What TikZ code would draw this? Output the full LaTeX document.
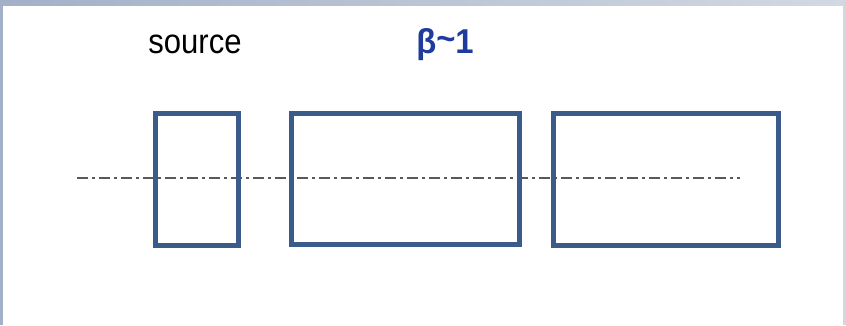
\documentclass[tikz,border=0pt]{standalone}
\usepackage{fontspec}
\setmainfont{Liberation Sans}
\definecolor{boxblue}{HTML}{3B5B8A}
\definecolor{betablue}{HTML}{1F3C9C}
\definecolor{frameL}{HTML}{A2B1C8}
\definecolor{frameR}{HTML}{D2D9E2}
\begin{document}
\begin{tikzpicture}[x=1pt,y=-1pt,
  tube/.style={draw=boxblue,line width=5pt,inner sep=0pt,outer sep=0pt},
  axisline/.style={draw=black!65,line width=1.6pt,dash pattern=on 11pt off 4pt on 3pt off 4pt},
  lbl/.style={inner sep=0pt}]
\useasboundingbox (0,0) rectangle (846,325);
\fill[white] (0,0) rectangle (846,325);
\shade[left color=frameL,right color=frameR] (0,0) rectangle (846,5);
\fill[frameL] (0,0) rectangle (3,325);
\fill[frameR!90!black!10!frameR] (843,0) rectangle (846,325);
\coordinate (axL) at (77,178);
\coordinate (axR) at (740,178);
\draw[axisline] (axL) -- (axR);
\node[tube,minimum width=83pt,minimum height=132pt] (src) at (197,179.5) {};
\node[tube,minimum width=228pt,minimum height=131pt] (c1) at (405.5,179) {};
\node[tube,minimum width=225pt,minimum height=132pt] (c2) at (666,179.5) {};
\node[lbl,font=\fontsize{34.5}{34.5}\selectfont,xscale=0.9] (slbl) at (195,44) {source};
\node[lbl,font=\fontsize{34.5}{34.5}\selectfont\bfseries,text=betablue,xscale=0.95] (blbl) at (445,45) {β\raisebox{0.1em}{\textasciitilde}1};
\end{tikzpicture}
\end{document}
